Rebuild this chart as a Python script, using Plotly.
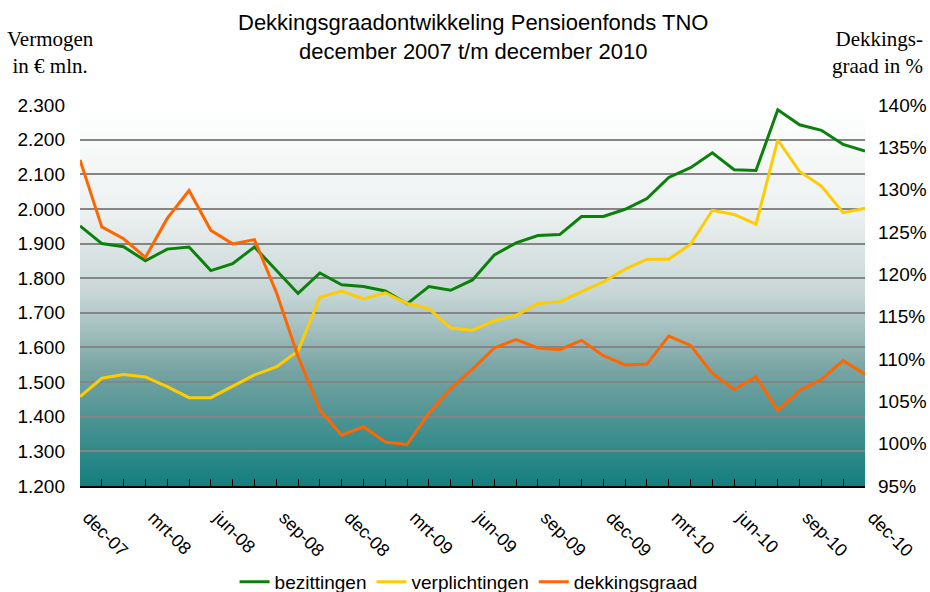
import base64
import plotly.graph_objects as go

months = ["dec-07", "jan-08", "feb-08", "mrt-08", "apr-08", "mei-08", "jun-08", "jul-08", "aug-08",
          "sep-08", "okt-08", "nov-08", "dec-08", "jan-09", "feb-09", "mrt-09", "apr-09", "mei-09",
          "jun-09", "jul-09", "aug-09", "sep-09", "okt-09", "nov-09", "dec-09", "jan-10", "feb-10",
          "mrt-10", "apr-10", "mei-10", "jun-10", "jul-10", "aug-10", "sep-10", "okt-10", "nov-10",
          "dec-10"]

bezittingen = [1951, 1900, 1891, 1850, 1884, 1890, 1822, 1842, 1890, 1822, 1756, 1815, 1781,
               1776, 1763, 1726, 1776, 1765, 1795, 1867, 1902, 1923, 1926, 1978, 1978, 1999,
               2030, 2091, 2119, 2162, 2113, 2111, 2286, 2243, 2227, 2186, 2167]

verplichtingen = [1458, 1511, 1522, 1515, 1487, 1455, 1455, 1489, 1521, 1544, 1590, 1745, 1763,
                  1740, 1758, 1727, 1712, 1656, 1650, 1677, 1693, 1727, 1732, 1761, 1789, 1826,
                  1855, 1855, 1898, 1996, 1984, 1956, 2199, 2108, 2066, 1989, 2002]

dekkingsgraad = [133.5, 125.6, 124.2, 122.0, 126.6, 129.9, 125.2, 123.6, 124.1, 117.9, 110.3,
                 104.0, 101.0, 102.0, 100.2, 99.9, 103.6, 106.5, 108.8, 111.3, 112.3, 111.3,
                 111.1, 112.2, 110.4, 109.3, 109.4, 112.7, 111.6, 108.3, 106.4, 107.9, 103.9,
                 106.3, 107.6, 109.8, 108.2]

tick_idx = list(range(0, 37, 3))
tick_labels = [months[i] for i in tick_idx]

x = list(range(len(months)))

svg = ('<svg xmlns="http://www.w3.org/2000/svg" width="100" height="100" preserveAspectRatio="none">'
       '<defs><linearGradient id="g" x1="0" y1="0" x2="0" y2="1">'
       '<stop offset="0" stop-color="#ffffff"/>'
       '<stop offset="0.28" stop-color="#edf1f1"/>'
       '<stop offset="0.5" stop-color="#c6d5d5"/>'
       '<stop offset="0.7" stop-color="#76a3a2"/>'
       '<stop offset="1" stop-color="#127f7e"/>'
       '</linearGradient></defs><rect width="100" height="100" fill="url(#g)"/></svg>')
svg_uri = "data:image/svg+xml;base64," + base64.b64encode(svg.encode()).decode()

fig = go.Figure()
fig.add_trace(go.Scatter(x=x, y=bezittingen, name="bezittingen", mode="lines",
                         line=dict(color="#0b800b", width=3)))
fig.add_trace(go.Scatter(x=x, y=verplichtingen, name="verplichtingen", mode="lines",
                         line=dict(color="#ffcc00", width=3)))
fig.add_trace(go.Scatter(x=x, y=dekkingsgraad, name="dekkingsgraad", mode="lines",
                         line=dict(color="#ff6600", width=3), yaxis="y2"))

font = "Liberation Sans, Arial, sans-serif"
serif = "Liberation Serif, Times New Roman, serif"

fig.update_layout(
    width=930, height=592,
    margin=dict(l=80, r=65, t=105, b=106, autoexpand=False),
    paper_bgcolor="white", plot_bgcolor="rgba(0,0,0,0)",
    separators=",.",
    font=dict(family=font, size=18, color="black"),
    showlegend=True,
    legend=dict(orientation="h", x=0.495, xanchor="center", y=-0.252, yanchor="middle",
                font=dict(family=font, size=19), itemwidth=30, tracegroupgap=0,
                bgcolor="rgba(0,0,0,0)"),
    xaxis=dict(range=[0, 36], tickvals=tick_idx, ticktext=tick_labels, tickangle=45,
               showgrid=False, zeroline=False, showline=True, linecolor="black", linewidth=2,
               ticks="inside", ticklen=7, tickcolor="black", tickwidth=1, automargin=False,
               ticklabelstandoff=12, ticklabelshift=8,
               minor=dict(ticks="inside", dtick=1, tick0=0, ticklen=7, tickcolor="black",
                          tickwidth=1, showgrid=False),
               tickfont=dict(family=font, size=18)),
    yaxis=dict(range=[1200, 2300], dtick=100, tickformat=",d", showgrid=True,
               gridcolor="#858585", gridwidth=1.5, zeroline=False, showline=False,
               ticks="", ticklabelstandoff=14, automargin=False,
               tickfont=dict(family=font, size=19)),
    yaxis2=dict(range=[95, 140], dtick=5, ticksuffix="%", overlaying="y", side="right",
                showgrid=False, zeroline=False, showline=False, ticks="", automargin=False,
                ticklabelstandoff=12, tickfont=dict(family=font, size=19)),
    images=[dict(source=svg_uri, xref="paper", yref="paper", x=0, y=1, sizex=1, sizey=1,
                 xanchor="left", yanchor="top", sizing="stretch", layer="below")],
    annotations=[
        dict(text="Dekkingsgraadontwikkeling Pensioenfonds TNO<br>december 2007 t/m december 2010",
             xref="paper", yref="paper", x=0.5, y=(486 - 8) / 381, xanchor="center",
             yanchor="top", align="center", showarrow=False,
             font=dict(family=font, size=22, color="black")),
        dict(text="Vermogen<br>in € mln.", xref="paper", yref="paper", x=-0.095, y=(486 - 80) / 381,
             xanchor="left", yanchor="bottom", align="center", showarrow=False,
             font=dict(family=serif, size=21, color="black")),
        dict(text="Dekkings-<br>graad in %", xref="paper", yref="paper", x=1.077, y=(486 - 80) / 381,
             xanchor="right", yanchor="bottom", align="right", showarrow=False,
             font=dict(family=serif, size=21, color="black")),
    ],
)

fig.write_html("out.html", config={"displayModeBar": False},
               post_script="document.body.style.margin='0px';")
